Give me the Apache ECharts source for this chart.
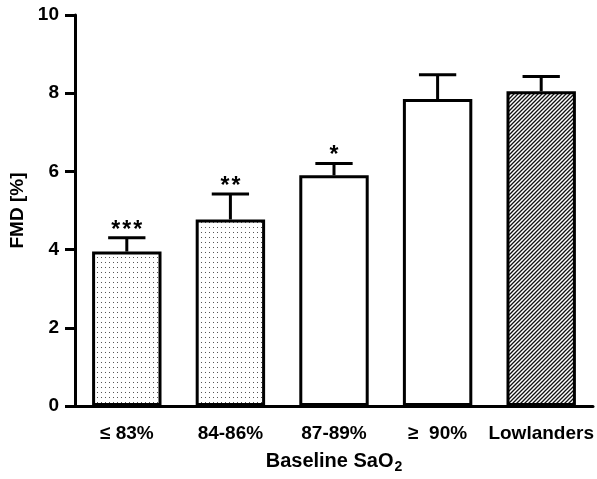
<!DOCTYPE html>
<html>
<head>
<meta charset="utf-8">
<script src="https://cdn.jsdelivr.net/npm/echarts@6/dist/echarts.min.js"></script>
<style>
  html, body { margin: 0; padding: 0; background: #fff; }
  #main { width: 597px; height: 479px; }
</style>
</head>
<body>
<div id="main"></div>
<script>
// data
var categories = ['\u2264 83%', '84-86%', '87-89%', '\u2265  90%', 'Lowlanders'];
var fmdMean = [3.95, 4.77, 5.9, 7.85, 8.05];
var fmdUpper = [4.3, 5.42, 6.2, 8.47, 8.43];
var stars = ['***', '**', '*', '', ''];
var yTicks = [0, 2, 4, 6, 8, 10];

var FONT = '"Liberation Sans", Arial, sans-serif';

// fill patterns
function dotPattern() {
  var c = document.createElement('canvas');
  c.width = 4; c.height = 5;
  var g = c.getContext('2d');
  g.fillStyle = '#fff';
  g.fillRect(0, 0, 4, 5);
  g.fillStyle = '#555';
  g.fillRect(1, 2, 1, 1);
  return c;
}
function hatchPattern() {
  var c = document.createElement('canvas');
  c.width = 4; c.height = 4;
  var g = c.getContext('2d');
  g.fillStyle = '#fff';
  g.fillRect(0, 0, 4, 4);
  g.strokeStyle = '#111';
  g.lineWidth = 1.3;
  g.beginPath();
  g.moveTo(-1, 5); g.lineTo(5, -1);
  g.moveTo(-1, 1); g.lineTo(1, -1);
  g.moveTo(3, 5); g.lineTo(5, 3);
  g.stroke();
  return c;
}
var fills = [
  { image: dotPattern(), repeat: 'repeat' },
  { image: dotPattern(), repeat: 'repeat' },
  '#fff',
  '#fff',
  { image: hatchPattern(), repeat: 'repeat' }
];

var myChart = echarts.init(document.getElementById('main'));

var option = {
  animation: false,
  backgroundColor: '#fff',
  grid: { left: 75, right: 4, top: 15, bottom: 73, outerBoundsMode: 'none' },
  xAxis: {
    type: 'category',
    data: categories,
    name: '{b|Baseline SaO}{s|2}',
    nameLocation: 'middle',
    nameGap: 42,
    nameTextStyle: {
      rich: {
        b: { fontFamily: FONT, fontWeight: 'bold', fontSize: 20, color: '#000' },
        s: { fontFamily: FONT, fontWeight: 'bold', fontSize: 14, color: '#000', padding: [12, 0, 0, 1] }
      }
    },
    axisLine: { lineStyle: { color: '#000', width: 3 } },
    axisTick: { alignWithLabel: true, length: 7, lineStyle: { color: '#000', width: 3 } },
    axisLabel: { interval: 0, margin: 18, fontFamily: FONT, fontWeight: 'bold', fontSize: 19, color: '#000' }
  },
  yAxis: {
    type: 'value',
    min: 0,
    max: 10,
    interval: 2,
    name: 'FMD [%]',
    nameLocation: 'middle',
    nameGap: 47,
    nameTextStyle: { fontFamily: FONT, fontWeight: 'bold', fontSize: 19, color: '#000' },
    axisLine: { show: true, lineStyle: { color: '#000', width: 3 } },
    axisTick: { show: true, length: 10, lineStyle: { color: '#000', width: 3 } },
    axisLabel: {
      margin: 16, fontFamily: FONT, fontWeight: 'bold', fontSize: 19, color: '#000',
      formatter: function (v) { return yTicks.indexOf(v) >= 0 ? String(v) : ''; }
    },
    splitLine: { show: false }
  },
  series: [{
    type: 'bar',
    barWidth: '67%',
    data: fmdMean.map(function (v, i) {
      return { value: v, itemStyle: { color: fills[i] } };
    }),
    itemStyle: { borderColor: '#000', borderWidth: 3 },
    z: 2
  }, {
    // upper error whisker + significance stars
    type: 'custom',
    data: fmdMean.map(function (v, i) { return [i, v, fmdUpper[i]]; }),
    renderItem: function (params, api) {
      var base = api.coord([api.value(0), api.value(1)]);
      var top = api.coord([api.value(0), api.value(2)]);
      var half = api.size([1, 0])[0] * 0.18;
      var st = { stroke: '#000', lineWidth: 3 };
      var kids = [
        { type: 'line', shape: { x1: base[0], y1: base[1], x2: top[0], y2: top[1] }, style: st },
        { type: 'line', shape: { x1: top[0] - half, y1: top[1], x2: top[0] + half, y2: top[1] }, style: st }
      ];
      var n = stars[params.dataIndex].length;
      for (var k = 0; k < n; k++) {
        kids.push({
          type: 'text',
          style: {
            text: '*', x: top[0] + (k - (n - 1) / 2) * 11, y: top[1] + 4,
            align: 'center', verticalAlign: 'bottom',
            font: 'bold 23px ' + FONT, fill: '#000'
          }
        });
      }
      return { type: 'group', children: kids };
    },
    z: 3
  }]
};

myChart.setOption(option);
</script>
</body>
</html>
